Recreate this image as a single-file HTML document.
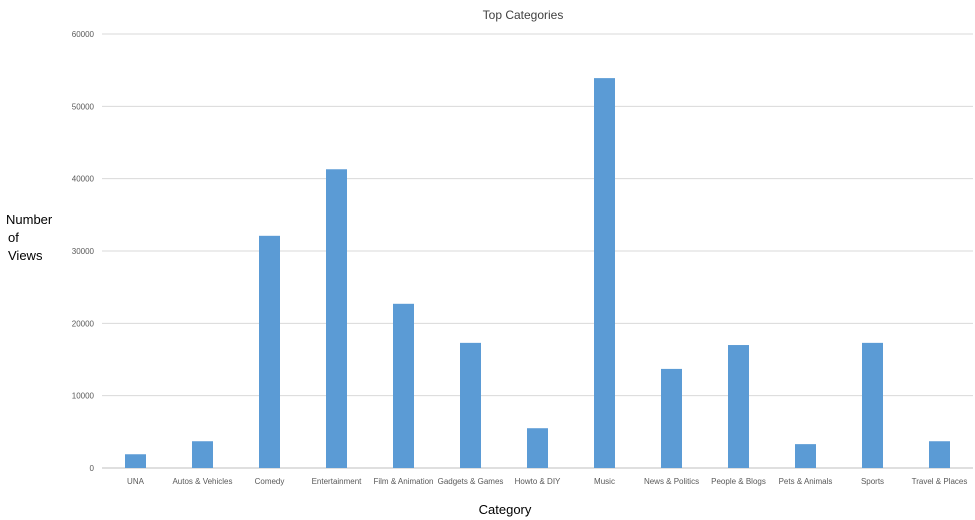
<!DOCTYPE html>
<html><head><meta charset="utf-8"><style>
body{margin:0;background:#fff;font-family:"Liberation Sans",sans-serif;}
svg{display:block}
</style></head><body>
<svg id="chart" width="975" height="520">
<text x="523" y="19" font-size="12" fill="#404040" text-anchor="middle">Top Categories</text>
<text x="6" y="224" font-size="13" fill="#000"><tspan x="6" dy="0">Number</tspan><tspan x="8" dy="18">of</tspan><tspan x="8" dy="18">Views</tspan></text>
<text x="505" y="514" font-size="13" fill="#000" text-anchor="middle">Category</text>
<g id="grid"></g><g id="bars"></g><g id="labels"></g>
</svg>
<script>
const categories=["UNA","Autos & Vehicles","Comedy","Entertainment","Film & Animation","Gadgets & Games","Howto & DIY","Music","News & Politics","People & Blogs","Pets & Animals","Sports","Travel & Places"];
const views=[1900,3700,32100,41300,22700,17300,5500,53900,13700,17000,3300,17300,3700];
const ticks=[0,10000,20000,30000,40000,50000,60000];
const x0=102,x1=973,y0=468,y1=34,yMax=60000;
const ns="http://www.w3.org/2000/svg";
const Y=v=>y0-(v/yMax)*(y0-y1);
const step=(x1-x0)/categories.length;
const X=i=>x0+step*(i+0.5);
const grid=document.getElementById('grid'),bars=document.getElementById('bars'),labels=document.getElementById('labels');
ticks.forEach(t=>{
 const l=document.createElementNS(ns,'line');
 l.setAttribute('x1',x0);l.setAttribute('x2',x1);l.setAttribute('y1',Y(t));l.setAttribute('y2',Y(t));
 l.setAttribute('stroke',t===0?'#bfbfbf':'#d9d9d9');
 
 
 grid.appendChild(l);
 const tx=document.createElementNS(ns,'text');
 tx.setAttribute('x',94);tx.setAttribute('y',Y(t)+3);tx.setAttribute('font-size','8');tx.setAttribute('fill','#595959');tx.setAttribute('text-anchor','end');
 tx.textContent=t;
 
 
 labels.appendChild(tx);
});
categories.forEach((c,i)=>{
 const r=document.createElementNS(ns,'rect');
 const w=21;
 r.setAttribute('x',X(i)-w/2);r.setAttribute('y',Y(views[i]));r.setAttribute('width',w);r.setAttribute('height',y0-Y(views[i]));
 r.setAttribute('fill','#5b9bd5');
 
 
 bars.appendChild(r);
 const tx=document.createElementNS(ns,'text');
 tx.setAttribute('x',X(i));tx.setAttribute('y',484);tx.setAttribute('font-size','8');tx.setAttribute('fill','#595959');tx.setAttribute('text-anchor','middle');
 tx.textContent=c;
 
 
 labels.appendChild(tx);
});
</script>
</body></html>
